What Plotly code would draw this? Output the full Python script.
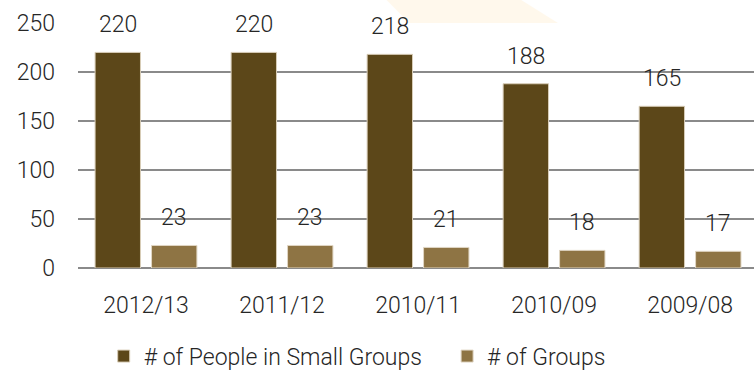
import plotly.graph_objects as go

# Small group participation by year
years = ["2012/13", "2011/12", "2010/11", "2010/09", "2009/08"]
people = [220, 220, 218, 188, 165]
groups = [23, 23, 21, 18, 17]

y_ticks = [0, 50, 100, 150, 200, 250]

DARK = "#5c4719"
LIGHT = "#8e7444"
FONT = "Roboto"
TEXT_COLOR = "#262626"
LABEL_FONT = dict(family=FONT, size=23, color=TEXT_COLOR, weight=300)

fig = go.Figure()
fig.add_trace(go.Bar(
    x=years, y=people, name="# of People in Small Groups",
    marker=dict(color=DARK, line=dict(color="#d8cdb8", width=1)),
    legend="legend",
))
fig.add_trace(go.Bar(
    x=years, y=groups, name="# of Groups",
    marker=dict(color=LIGHT, line=dict(color="#e0d6c4", width=1)),
    legend="legend2",
))

# value labels above each bar
annotations = []
for series, shift in ((people, -28), (groups, 28)):
    for cat, val in zip(years, series):
        annotations.append(dict(
            x=cat, y=val, xref="x", yref="y", text=str(val),
            showarrow=False, xshift=shift, yshift=12, yanchor="bottom",
            font=LABEL_FONT,
        ))

# faint warm glow behind the top of the chart
glow = dict(
    type="path", xref="paper", yref="paper", layer="below",
    path="M 0.456 1.095 L 0.655 1.095 L 0.71 1.0 L 0.49 1.0 Z",
    fillcolor="rgba(255,236,200,0.35)", line=dict(width=0),
)

legend_common = dict(
    orientation="h", xanchor="left", xref="paper",
    y=-0.272, yanchor="top", font=LABEL_FONT, itemwidth=30,
    bgcolor="rgba(0,0,0,0)",
)

fig.update_layout(
    width=754, height=375,
    margin=dict(l=78, r=0, t=23, b=107, autoexpand=False),
    paper_bgcolor="white", plot_bgcolor="white",
    barmode="group", bargap=0.17, bargroupgap=0.196,
    font=LABEL_FONT,
    showlegend=True,
    legend=dict(x=0.038, **legend_common),
    legend2=dict(x=0.546, **legend_common),
    annotations=annotations,
    shapes=[glow],
)
fig.update_yaxes(
    range=[0, 250], tickvals=y_ticks, showgrid=True,
    gridcolor="#8a8a8a", gridwidth=2, zeroline=True,
    zerolinecolor="#8a8a8a", zerolinewidth=2,
    ticks="", ticklabelstandoff=22, showline=False, automargin=False,
)
fig.update_xaxes(
    range=[-0.5, 4.47], ticks="", showline=False, ticklabelstandoff=21,
    automargin=False,
)

fig.write_html("out.html")
